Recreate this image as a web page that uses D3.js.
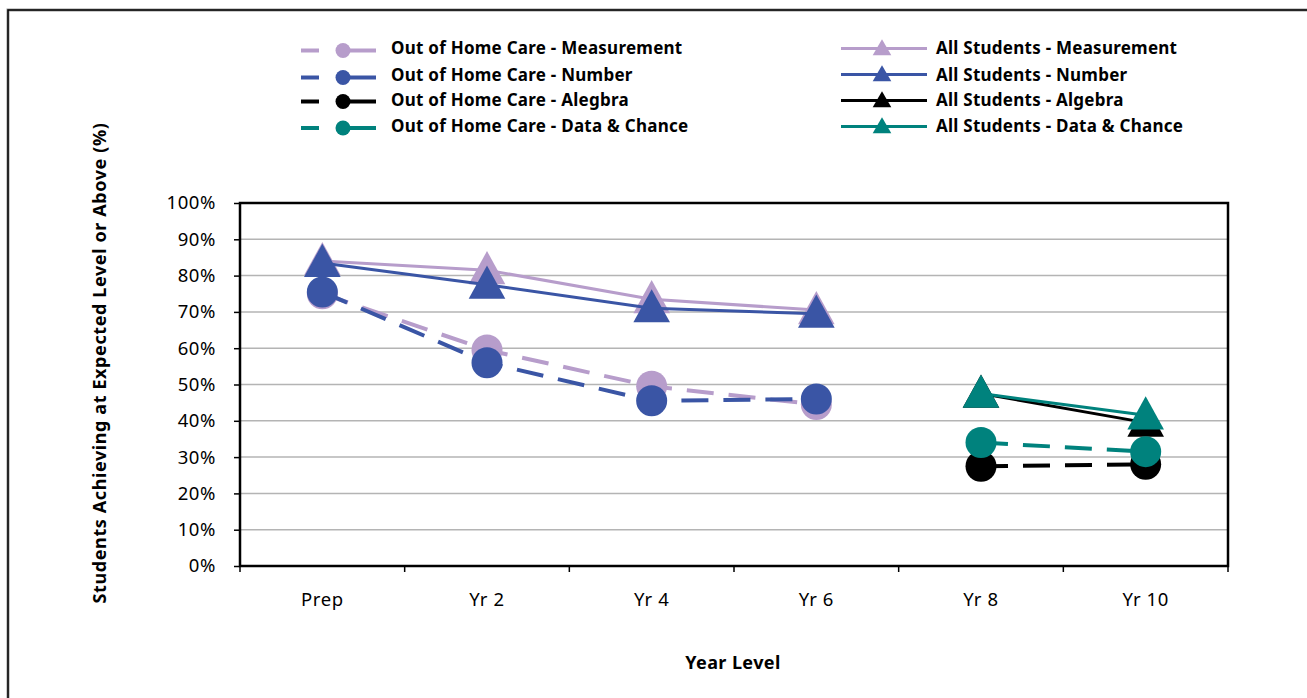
<!DOCTYPE html>
<html>
<head>
<meta charset="utf-8">
<script src="https://cdn.jsdelivr.net/npm/d3@7"></script>
<style>
  html, body { margin: 0; padding: 0; background: #fff; }
  svg { display: block; }
  text { font-family: "Noto Sans", "Open Sans", sans-serif; fill: #000; }
</style>
</head>
<body>
<svg id="chart" width="1307" height="698"></svg>
<script>
// Year levels along the x axis
const categories = ["Prep", "Yr 2", "Yr 4", "Yr 6", "Yr 8", "Yr 10"];

// Percent of students at expected level or above (null = not assessed)
const oohcMeasurement = [75, 59.5, 49.5, 44.5, null, null];
const oohcNumber      = [75.5, 56, 45.5, 46, null, null];
const oohcAlgebra     = [null, null, null, null, 27.5, 28];
const oohcDataChance  = [null, null, null, null, 34, 31.5];
const allMeasurement  = [84, 81.5, 73.5, 70.5, null, null];
const allNumber       = [83.5, 77.5, 71, 69.5, null, null];
const allAlgebra      = [null, null, null, null, 47.5, 39.5];
const allDataChance   = [null, null, null, null, 47.5, 41.5];

const yTicks = [0, 10, 20, 30, 40, 50, 60, 70, 80, 90, 100];

const colors = {
  measurement: "#B79DCB",
  number: "#3A55A5",
  algebra: "#000000",
  dataChance: "#00827D"
};

// Drawing order follows the legend read row by row
const series = [
  { name: "Out of Home Care - Measurement", values: oohcMeasurement, color: colors.measurement, group: "oohc" },
  { name: "All Students - Measurement",     values: allMeasurement,  color: colors.measurement, group: "all" },
  { name: "Out of Home Care - Number",      values: oohcNumber,      color: colors.number,      group: "oohc" },
  { name: "All Students - Number",          values: allNumber,       color: colors.number,      group: "all" },
  { name: "Out of Home Care - Alegbra",     values: oohcAlgebra,     color: colors.algebra,     group: "oohc" },
  { name: "All Students - Algebra",         values: allAlgebra,      color: colors.algebra,     group: "all" },
  { name: "Out of Home Care - Data & Chance", values: oohcDataChance, color: colors.dataChance, group: "oohc" },
  { name: "All Students - Data & Chance",   values: allDataChance,   color: colors.dataChance,  group: "all" }
];

const svg = d3.select("#chart");

// Outer frame with a light shadow edge
svg.append("rect").attr("x", 8).attr("y", 10).attr("width", 1320).attr("height", 720)
  .attr("fill", "none").attr("stroke", "#9a9a9a").attr("stroke-width", 3);
svg.append("rect").attr("x", 8).attr("y", 10).attr("width", 1320).attr("height", 720)
  .attr("fill", "none").attr("stroke", "#000").attr("stroke-width", 1.5);

const plot = { left: 240, right: 1228, top: 203, bottom: 566 };

const x = d3.scaleBand().domain(categories).range([plot.left, plot.right]).padding(0);
const cx = d => x(d) + x.bandwidth() / 2;
const y = d3.scaleLinear().domain([0, 100]).range([plot.bottom, plot.top]);

// Gridlines
svg.append("g").selectAll("line").data(yTicks.filter(t => t > 0 && t < 100)).join("line")
  .attr("x1", plot.left).attr("x2", plot.right)
  .attr("y1", d => y(d)).attr("y2", d => y(d))
  .attr("stroke", "#b4b4b4").attr("stroke-width", 1.5);

// Y axis
const yAxis = d3.axisLeft(y).tickValues(yTicks).tickFormat(d => d + "%").tickSize(6).tickPadding(18);
const gy = svg.append("g").attr("transform", `translate(${plot.left},0)`).call(yAxis);
gy.select(".domain").remove();
gy.selectAll(".tick line").attr("stroke", "#000").attr("stroke-width", 1.5);
gy.selectAll(".tick text").attr("font-size", 18.5).attr("letter-spacing", "0.6px")
  .attr("font-family", "Noto Sans").attr("fill", "#000");

// X axis: ticks on the category boundaries, labels in the band centres
const gx = svg.append("g");
const boundaries = categories.map(c => x(c)).concat([plot.right]);
gx.selectAll("line.tick").data(boundaries).join("line")
  .attr("class", "tick")
  .attr("x1", d => d).attr("x2", d => d)
  .attr("y1", plot.bottom).attr("y2", plot.bottom + 6)
  .attr("stroke", "#000").attr("stroke-width", 1.5);
gx.selectAll("text").data(categories).join("text")
  .attr("x", d => cx(d)).attr("y", 606)
  .attr("text-anchor", "middle").attr("font-size", 18.5).attr("letter-spacing", "0.6px")
  .text(d => d);

// Plot border
svg.append("rect")
  .attr("x", plot.left).attr("y", plot.top)
  .attr("width", plot.right - plot.left).attr("height", plot.bottom - plot.top)
  .attr("fill", "none").attr("stroke", "#000").attr("stroke-width", 2.5);

// Axis titles
svg.append("text").attr("x", 733).attr("y", 669).attr("text-anchor", "middle")
  .attr("font-size", 18).attr("letter-spacing", "0.4px").attr("font-weight", "bold").text("Year Level");
svg.append("text")
  .attr("transform", "translate(106,363) rotate(-90)")
  .attr("text-anchor", "middle").attr("font-size", 18).attr("letter-spacing", "0.6px")
  .attr("font-weight", "bold")
  .text("Students Achieving at Expected Level or Above (%)");

// Series lines and markers
const tri = d3.symbol().type(d3.symbolTriangle);
const line = d3.line()
  .defined(d => d.v != null)
  .x(d => cx(d.c)).y(d => y(d.v));

const marks = svg.append("g");
series.forEach(s => {
  const pts = categories.map((c, i) => ({ c, v: s.values[i] }));
  const g = marks.append("g");
  g.append("path").datum(pts)
    .attr("d", line)
    .attr("fill", "none")
    .attr("stroke", s.color)
    .attr("stroke-width", s.group === "oohc" ? 4 : 3)
    .attr("stroke-dasharray", s.group === "oohc" ? "27,15" : null);
  const valid = pts.filter(d => d.v != null);
  if (s.group === "oohc") {
    g.selectAll("circle").data(valid).join("circle")
      .attr("cx", d => cx(d.c)).attr("cy", d => y(d.v)).attr("r", 15.5)
      .attr("fill", s.color);
  } else {
    g.selectAll("path.m").data(valid).join("path")
      .attr("class", "m")
      .attr("transform", d => `translate(${cx(d.c)},${y(d.v) + 3}) scale(1.1,1.15)`)
      .attr("d", tri.size(480)())
      .attr("fill", s.color);
  }
});

// Legend
const legendLeft = [
  { s: series[0], ty: 48, ly: 50.5 },
  { s: series[2], ty: 75, ly: 77.5 },
  { s: series[4], ty: 100, ly: 101.5 },
  { s: series[6], ty: 126, ly: 128 }
];
const legendRight = [
  { s: series[1], ty: 48, ly: 48.5 },
  { s: series[3], ty: 75, ly: 74.5 },
  { s: series[5], ty: 100, ly: 100.5 },
  { s: series[7], ty: 126, ly: 126.5 }
];
const lg = svg.append("g");
legendLeft.forEach(e => {
  lg.append("line").attr("x1", 301).attr("x2", 319).attr("y1", e.ly).attr("y2", e.ly)
    .attr("stroke", e.s.color).attr("stroke-width", 4);
  lg.append("line").attr("x1", 336).attr("x2", 376).attr("y1", e.ly).attr("y2", e.ly)
    .attr("stroke", e.s.color).attr("stroke-width", 4);
  lg.append("circle").attr("cx", 343).attr("cy", e.ly).attr("r", 7.5).attr("fill", e.s.color);
  lg.append("text").attr("x", 391).attr("y", e.ty).attr("dy", "0.36em")
    .attr("font-size", 17).attr("letter-spacing", "0.25px")
    .attr("font-weight", "bold").text(e.s.name);
});
legendRight.forEach(e => {
  lg.append("line").attr("x1", 841).attr("x2", 927).attr("y1", e.ly).attr("y2", e.ly)
    .attr("stroke", e.s.color).attr("stroke-width", 3);
  lg.append("path").attr("transform", `translate(882,${e.ly + 1.5})`)
    .attr("d", d3.symbol().type(d3.symbolTriangle).size(150)())
    .attr("fill", e.s.color);
  lg.append("text").attr("x", 936).attr("y", e.ty).attr("dy", "0.36em")
    .attr("font-size", 17).attr("letter-spacing", "0.25px")
    .attr("font-weight", "bold").text(e.s.name);
});
</script>
</body>
</html>
